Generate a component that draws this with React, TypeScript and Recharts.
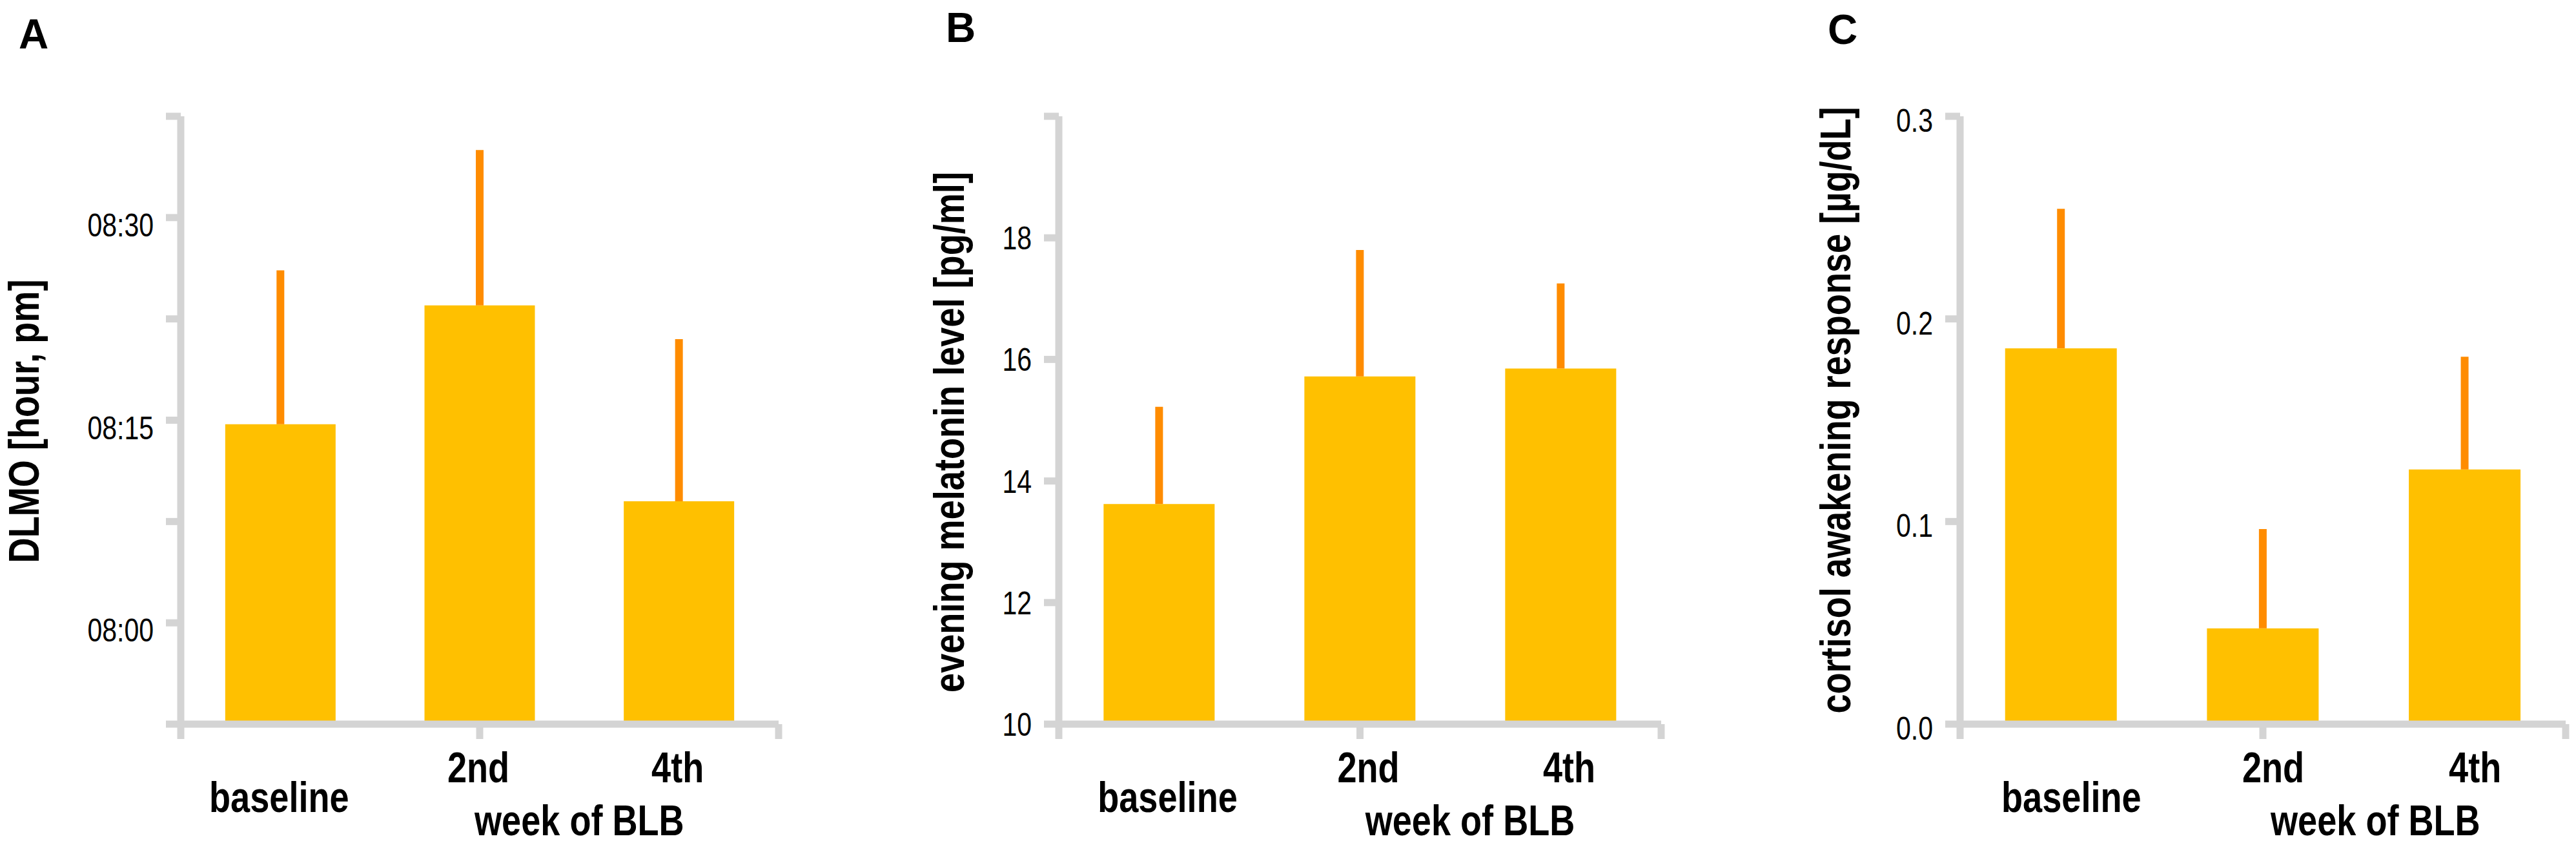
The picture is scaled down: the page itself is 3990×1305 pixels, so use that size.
import { BarChart, Bar, XAxis, YAxis, ErrorBar, Label } from "recharts";

const weeks = ["baseline", "2nd", "4th"];

// DLMO in minutes after 08:00 pm
const dlmoMean = [14.7, 23.5, 9.0];
const dlmoSd = [11.4, 11.5, 12.0];
const dlmoTicks = [-7.5, 0, 7.5, 15, 22.5, 30, 37.5];
const dlmoTickLabels = ["", "08:00", "", "08:15", "", "08:30", ""];

const melatoninMean = [13.62, 15.72, 15.85];
const melatoninSd = [1.6, 2.08, 1.4];
const melatoninTicks = [10, 12, 14, 16, 18, 20];
const melatoninTickLabels = ["10", "12", "14", "16", "18", ""];

const cortisolMean = [0.1855, 0.0473, 0.1257];
const cortisolSd = [0.0688, 0.049, 0.0556];
const cortisolTicks = [0, 0.1, 0.2, 0.3];
const cortisolTickLabels = ["0.0", "0.1", "0.2", "0.3"];

const edgeTicks = [0, 1, 2, 3];

// no narrow face installed, so squeeze Liberation Sans horizontally
const FONT = '"Liberation Sans", Arial, sans-serif';
const SQUEEZE = 0.82;
const BAR = "#FFC000";
const ERR = "#FF8C00";
const GRAY = "#D4D4D4";

function NarrowText({ x, y, rotate = 0, anchor = "middle", size, bold, children }: any) {
  return (
    <text transform={`translate(${x},${y}) rotate(${rotate}) scale(${SQUEEZE},1)`}
      textAnchor={anchor} fontFamily={FONT} fontWeight={bold ? "bold" : "normal"}
      fontSize={size} fill="#000">
      {children}
    </text>
  );
}

type PanelProps = {
  left: number;
  width: number;
  axisWidth: number;
  right: number;
  yLabel: string;
  labelX: number;
  labelY: number;
  mean: number[];
  sd: number[];
  ticks: number[];
  tickLabels: string[];
  tickShift: number;
  catShift: number;
};

function Panel(p: PanelProps) {
  const base = p.ticks[0];
  // bars run from the bottom of the axis to the mean
  const data = weeks.map((name, i) => ({ name, value: [base, p.mean[i]], err: [0, p.sd[i]] }));

  const yTick = (props: any) => {
    const i = p.ticks.indexOf(props.payload.value);
    return (
      <NarrowText x={props.x} y={props.y + 18 + p.tickShift} anchor="end" size={50}>
        {p.tickLabels[i]}
      </NarrowText>
    );
  };

  const catTick = (props: any) => (
    <NarrowText x={props.x + p.catShift} y={props.y + (props.index === 0 ? 106 : 60)} size={66} bold>
      {props.payload.value}
    </NarrowText>
  );

  return (
    <div style={{ position: "absolute", left: p.left, top: 0 }}>
      <BarChart width={p.width} height={1305} data={data}
        margin={{ top: 180, right: p.right, bottom: 0, left: 0 }}
        barCategoryGap="22.3%">
        <Bar dataKey="value" xAxisId="labels" fill={BAR} isAnimationActive={false}>
          <ErrorBar dataKey="err" width={0} stroke={ERR} strokeWidth={12} direction="y" />
        </Bar>
        <XAxis xAxisId="axis" type="number" domain={[0, 3]} ticks={edgeTicks} allowDataOverflow
          height={30} tickSize={23}
          axisLine={{ stroke: GRAY, strokeWidth: 11 }}
          tickLine={{ stroke: GRAY, strokeWidth: 11 }}
          tickFormatter={() => ""} />
        <XAxis xAxisId="labels" dataKey="name" height={154} axisLine={false} tickLine={false}
          tickSize={0} tickMargin={0} interval={0} tick={catTick}>
          <Label content={(lp: any) => (
            <NarrowText x={lp.viewBox.x + (lp.viewBox.width * 2) / 3 + p.catShift + 2}
              y={lp.viewBox.y + 142} size={66} bold>
              week of BLB
            </NarrowText>
          )} />
        </XAxis>
        <YAxis width={p.axisWidth} type="number" domain={[base, p.ticks[p.ticks.length - 1]]}
          ticks={p.ticks} interval={0} allowDataOverflow tickSize={23} tickMargin={19}
          axisLine={{ stroke: GRAY, strokeWidth: 11 }}
          tickLine={{ stroke: GRAY, strokeWidth: 11 }}
          tick={yTick}>
          <Label content={() => (
            <NarrowText x={p.labelX} y={p.labelY} rotate={-90} size={66} bold>
              {p.yLabel}
            </NarrowText>
          )} />
        </YAxis>
      </BarChart>
    </div>
  );
}

const letterStyle = (left: number, top: number): React.CSSProperties => ({
  position: "absolute", left, top, fontFamily: FONT, fontWeight: "bold",
  fontSize: 64, lineHeight: "64px", color: "#000",
});

export default function App() {
  return (
    <div style={{ position: "relative", width: 3990, height: 1305, background: "#fff", overflow: "hidden" }}>
      <style>{"body{margin:0}"}</style>
      <Panel left={0} width={1260} axisWidth={280} right={54}
        yLabel="DLMO [hour, pm]" labelX={60} labelY={652}
        mean={dlmoMean} sd={dlmoSd} ticks={dlmoTicks} tickLabels={dlmoTickLabels}
        tickShift={11} catShift={-2} />
      <Panel left={1300} width={1330} axisWidth={340} right={57}
        yLabel="evening melatonin level [pg/ml]" labelX={193} labelY={669}
        mean={melatoninMean} sd={melatoninSd} ticks={melatoninTicks} tickLabels={melatoninTickLabels}
        tickShift={0} catShift={13} />
      <Panel left={2660} width={1330} axisWidth={376} right={16}
        yLabel="cortisol awakening response [µg/dL]" labelX={206} labelY={635}
        mean={cortisolMean} sd={cortisolSd} ticks={cortisolTicks} tickLabels={cortisolTickLabels}
        tickShift={6} catShift={16} />
      <div style={letterStyle(29, 21)}>A</div>
      <div style={letterStyle(1465, 11)}>B</div>
      <div style={letterStyle(2831, 14)}>C</div>
    </div>
  );
}
